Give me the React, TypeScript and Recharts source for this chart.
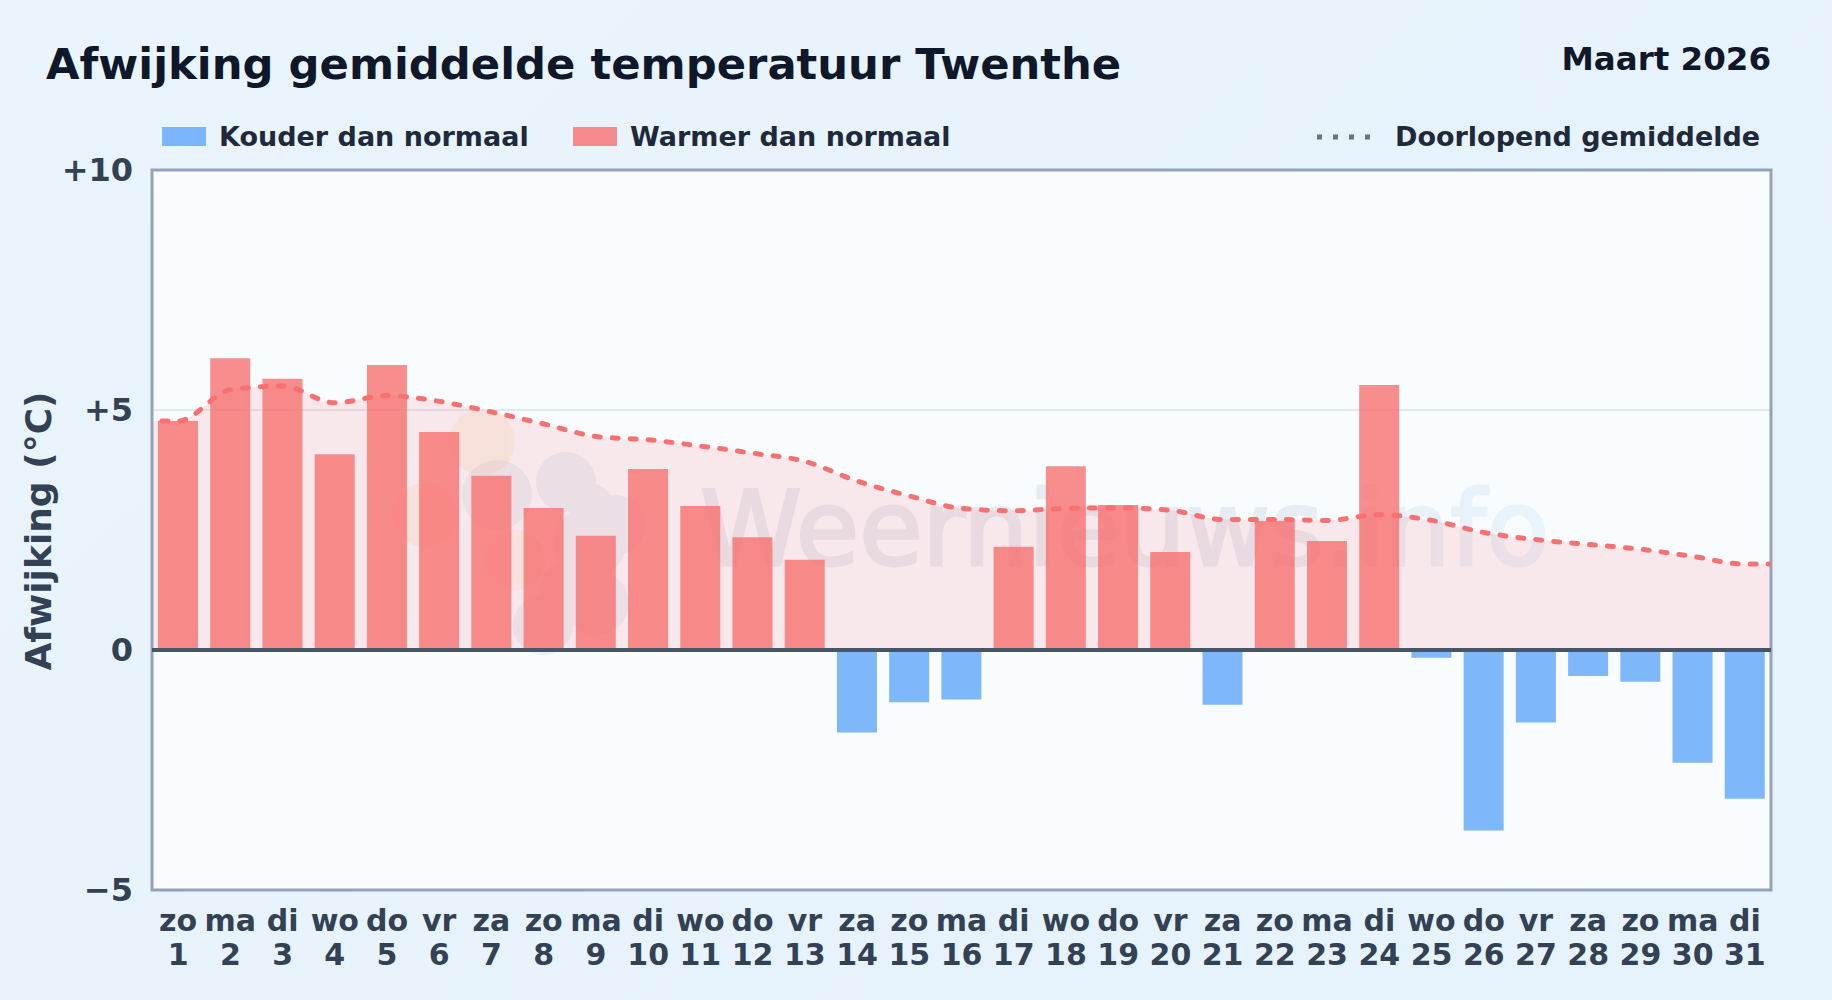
import React from 'react';
import { ComposedChart, Area, Bar, Cell, Line, XAxis, YAxis, CartesianGrid, ReferenceLine, ReferenceArea } from 'recharts';

const days = [1, 2, 3, 4, 5, 6, 7, 8, 9, 10, 11, 12, 13, 14, 15, 16, 17, 18, 19, 20, 21, 22, 23, 24, 25, 26, 27, 28, 29, 30, 31];
const weekdays = ['zo', 'ma', 'di', 'wo', 'do', 'vr', 'za', 'zo', 'ma', 'di', 'wo', 'do', 'vr', 'za', 'zo', 'ma', 'di', 'wo', 'do', 'vr', 'za', 'zo', 'ma', 'di', 'wo', 'do', 'vr', 'za', 'zo', 'ma', 'di'];
const deviation = [4.77, 6.08, 5.65, 4.08, 5.94, 4.54, 3.63, 2.96, 2.38, 3.77, 3.0, 2.35, 1.88, -1.72, -1.09, -1.03, 2.15, 3.83, 3.02, 2.04, -1.14, 2.69, 2.27, 5.52, -0.16, -3.76, -1.51, -0.54, -0.66, -2.35, -3.1];
const runningMean = [4.77, 5.42, 5.5, 5.15, 5.3, 5.18, 4.96, 4.71, 4.45, 4.38, 4.25, 4.1, 3.93, 3.52, 3.21, 2.95, 2.9, 2.95, 2.96, 2.91, 2.72, 2.72, 2.7, 2.82, 2.7, 2.45, 2.3, 2.2, 2.1, 1.95, 1.79];
const yTicks = [-5, 0, 5, 10];
const yTickLabels = ['−5', '0', '+5', '+10'];

const FONT = '"DejaVu Sans", sans-serif';
const WARM = '#f87171';
const COLD = '#60a5fa';

// the running mean runs on to both plot edges: one extra row either side, clipped by the axis domain
const rows = [
  { day: 0, value: null, mean: runningMean[0] },
  ...days.map((day, i) => ({ day, value: deviation[i], mean: runningMean[i] })),
  { day: 32, value: null, mean: runningMean[30] },
];

const DayTick = ({ x, y, payload }: any) => (
  <text x={x} y={y} textAnchor="middle" fontFamily={FONT} fontWeight={700} fontSize={30} fill="#334155">
    <tspan x={x} y={931}>{weekdays[payload.value - 1]}</tspan>
    <tspan x={x} y={965}>{payload.value}</tspan>
  </text>
);

const Watermark = () => (
  <svg width={1832} height={1000} style={{ position: 'absolute', left: 0, top: 0 }}>
    <g fill="#f0b050" opacity={0.1}>
      <circle cx={482} cy={442} r={33} />
      <circle cx={425} cy={515} r={32} />
      <circle cx={515} cy={560} r={30} />
    </g>
    <g fill="#6f7fb8" opacity={0.09}>
      <circle cx={566} cy={482} r={30} />
      <circle cx={590} cy={505} r={22} />
      <circle cx={497} cy={495} r={35} />
      <circle cx={590} cy={543} r={36} />
      <circle cx={615} cy={525} r={30} />
      <circle cx={543} cy={625} r={30} />
      <circle cx={597} cy={603} r={32} />
      <circle cx={570} cy={590} r={30} />
    </g>
    <defs>
      <linearGradient id="wm" x1="0" x2="1" y1="0" y2="0">
        <stop offset="0%" stopColor="#7a7fa8" />
        <stop offset="65%" stopColor="#7a7fa8" />
        <stop offset="100%" stopColor="#8cc4f4" />
      </linearGradient>
    </defs>
    <g opacity={0.13}>
      <text x={700} y={565} fontFamily={FONT} fontSize={103} fill="url(#wm)" stroke="url(#wm)" strokeWidth={3}>Weernieuws.info</text>
    </g>
  </svg>
);

const Label = ({ x, y, size, color, children, right }: any) => (
  <svg width={1832} height={1000} style={{ position: 'absolute', left: 0, top: 0, pointerEvents: 'none' }}>
    <text x={x} y={y} fontFamily={FONT} fontWeight={700} fontSize={size} fill={color} textAnchor={right ? 'end' : 'start'}>{children}</text>
  </svg>
);

const LegendItem = ({ x, color, label }: any) => (
  <>
    <div style={{ position: 'absolute', left: x, top: 127, width: 44, height: 19, background: color, opacity: 0.8 }} />
    <Label x={x + 57} y={146} size={27} color="#1e293b">{label}</Label>
  </>
);

export default function App() {
  return (
    <div style={{ position: 'absolute', left: 0, top: 0, width: 1832, height: 1000, overflow: 'hidden', background: 'linear-gradient(135deg, #e9f4fc, #e6f2fc)' }}>
      {/* plot background, the watermark sits between this and the chart */}
      <div style={{ position: 'absolute', left: 152, top: 170, width: 1619, height: 720, background: '#f8fcff' }} />
      <Watermark />

      <div style={{ position: 'absolute', left: 0, top: 0 }}>
        <ComposedChart width={1832} height={1000} data={rows} margin={{ top: 170, right: 61, bottom: 0, left: 32 }}>
          <CartesianGrid vertical={false} horizontalValues={[5]} stroke="#e2e8f0" strokeWidth={2} />
          <XAxis dataKey="day" type="number" domain={[0.5, 31.5]} allowDataOverflow ticks={days} interval={0} tick={<DayTick />} tickLine={false} axisLine={false} height={110} />
          <YAxis
            type="number"
            domain={[-5, 10]}
            ticks={yTicks}
            width={120}
            tickSize={0}
            tickMargin={19}
            axisLine={false}
            tickFormatter={(v: number) => yTickLabels[yTicks.indexOf(v)]}
            tick={{ fontFamily: FONT, fontWeight: 700, fontSize: 32, fill: '#334155' }}
          />
          <Area dataKey="mean" type="monotone" fill={WARM} fillOpacity={0.14} stroke="none" isAnimationActive={false} />
          <Bar dataKey="value" barSize={40} fillOpacity={0.8} isAnimationActive={false}>
            {rows.map((r) => (
              <Cell key={r.day} fill={r.value !== null && r.value < 0 ? COLD : WARM} />
            ))}
          </Bar>
          <Line dataKey="mean" type="monotone" stroke={WARM} strokeWidth={5} strokeLinecap="round" strokeDasharray="6 12" dot={false} activeDot={false} isAnimationActive={false} />
          <ReferenceLine y={0} stroke="#475569" strokeWidth={4} />
          <ReferenceArea x1={0.5} x2={31.5} y1={-5} y2={10} fill="none" stroke="#94a3b8" strokeWidth={3} />
        </ComposedChart>
      </div>

      <Label x={46} y={79} size={43.3} color="#0f172a">Afwijking gemiddelde temperatuur Twenthe</Label>
      <Label x={1771} y={70} size={32.5} color="#0f172a" right>Maart 2026</Label>

      <LegendItem x={162} color={COLD} label="Kouder dan normaal" />
      <LegendItem x={573} color={WARM} label="Warmer dan normaal" />
      <svg width={1832} height={1000} style={{ position: 'absolute', left: 0, top: 0 }}>
        <line x1={1317} x2={1375} y1={137} y2={137} stroke="#64748b" strokeWidth={5} strokeDasharray="5 11" />
        <text transform="translate(51 531) rotate(-90)" textAnchor="middle" fontFamily={FONT} fontWeight={700} fontSize={36} fill="#334155">Afwijking (°C)</text>
      </svg>
      <Label x={1395} y={146} size={27} color="#1e293b">Doorlopend gemiddelde</Label>
    </div>
  );
}
